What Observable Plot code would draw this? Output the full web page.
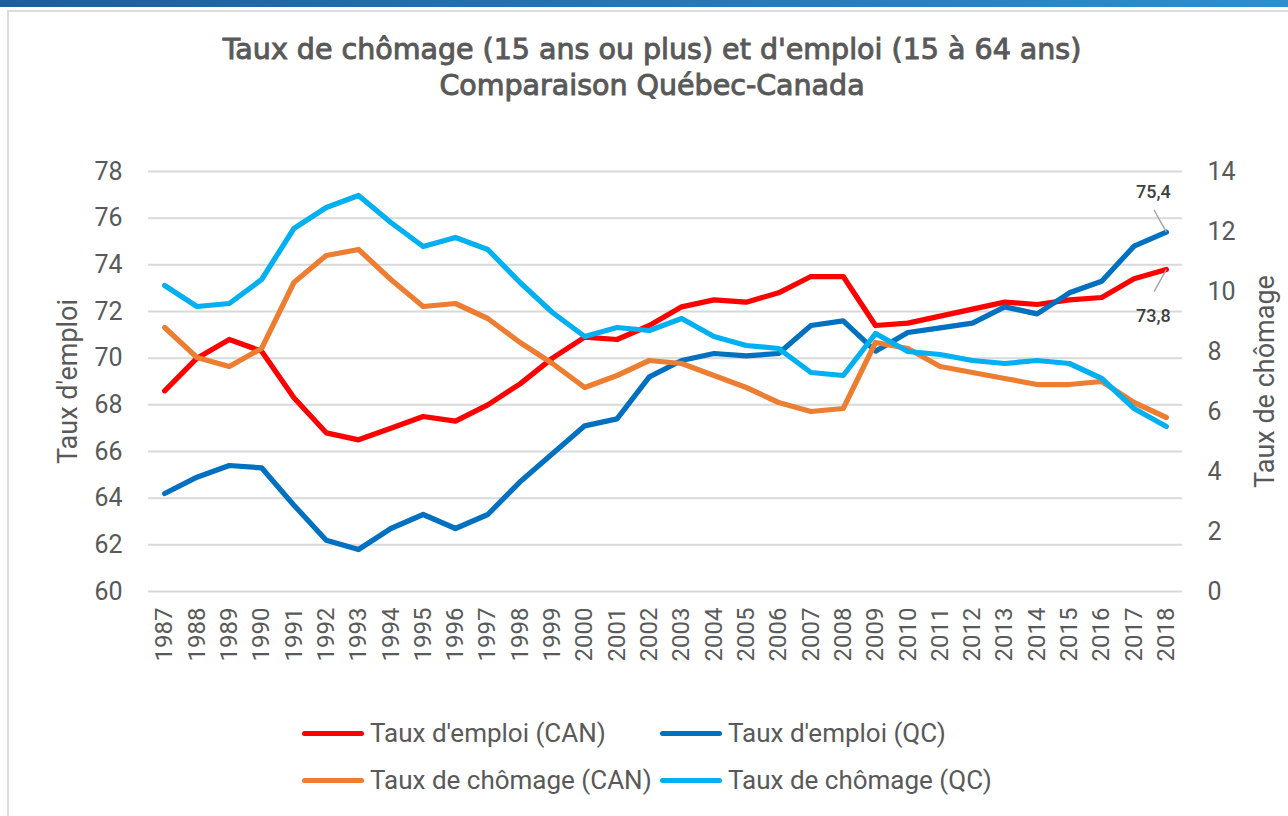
<!DOCTYPE html>
<html>
<head>
<meta charset="utf-8">
<script src="https://cdn.jsdelivr.net/npm/d3@7"></script>
<script src="https://cdn.jsdelivr.net/npm/@observablehq/plot@0.6"></script>
<style>
  html, body { margin: 0; padding: 0; background: #fff; }
  #wrap { position: relative; width: 1288px; height: 816px; overflow: hidden; background: #fff; }
  #topbar { position: absolute; left: 0; top: 0; width: 1288px; height: 7px;
            background: linear-gradient(to right, #1b5e9e, #2b8fd3); }
  #frame { position: absolute; left: 7px; top: 10px; width: 1400px; height: 900px;
           border-left: 2px solid #dcdcdc; border-top: 2px solid #dcdcdc; }
  .title { position: absolute; left: 0; width: 1304px; text-align: center;
           font-family: "DejaVu Sans", sans-serif; font-weight: normal; color: #595959;
           -webkit-text-stroke: 1px #595959;
           font-size: 28.5px; line-height: 34px; }
  #chart { position: absolute; left: 0; top: 0; }
  .leg { position: absolute; display: flex; align-items: center; font-family: Roboto, sans-serif;
         font-size: 26px; color: #595959; white-space: nowrap; }
  .sw { width: 62px; height: 5px; border-radius: 3px; margin-right: 6px; }
</style>
</head>
<body>
<div id="wrap">
  <div id="topbar"></div>
  <div id="frame"></div>
  <div class="title" id="t1" style="top:33px"></div>
  <div class="title" id="t2" style="top:69px"></div>
  <div id="chart"></div>
</div>
<script>
// ---- Data ----
const titleLine1 = "Taux de chômage (15 ans ou plus) et d'emploi (15 à 64 ans)";
const titleLine2 = "Comparaison Québec-Canada";
const years = [1987,1988,1989,1990,1991,1992,1993,1994,1995,1996,1997,1998,1999,2000,2001,2002,
               2003,2004,2005,2006,2007,2008,2009,2010,2011,2012,2013,2014,2015,2016,2017,2018];
const empCAN = [68.6,70.0,70.8,70.3,68.3,66.8,66.5,67.0,67.5,67.3,68.0,68.9,70.0,70.9,70.8,71.4,
                72.2,72.5,72.4,72.8,73.5,73.5,71.4,71.5,71.8,72.1,72.4,72.3,72.5,72.6,73.4,73.8];
const empQC = [64.2,64.9,65.4,65.3,63.7,62.2,61.8,62.7,63.3,62.7,63.3,64.7,65.9,67.1,67.4,69.2,
               69.9,70.2,70.1,70.2,71.4,71.6,70.3,71.1,71.3,71.5,72.2,71.9,72.8,73.3,74.8,75.4];
const unempCAN = [8.8,7.8,7.5,8.1,10.3,11.2,11.4,10.4,9.5,9.6,9.1,8.3,7.6,6.8,7.2,7.7,
                  7.6,7.2,6.8,6.3,6.0,6.1,8.3,8.1,7.5,7.3,7.1,6.9,6.9,7.0,6.3,5.8];
const unempQC = [10.2,9.5,9.6,10.4,12.1,12.8,13.2,12.3,11.5,11.8,11.4,10.3,9.3,8.5,8.8,8.7,
                 9.1,8.5,8.2,8.1,7.3,7.2,8.6,8.0,7.9,7.7,7.6,7.7,7.6,7.1,6.1,5.5];
const leftTicks = [60,62,64,66,68,70,72,74,76,78];
const rightTicks = [0,2,4,6,8,10,12,14];
const seriesNames = ["Taux d'emploi (CAN)","Taux d'emploi (QC)","Taux de chômage (CAN)","Taux de chômage (QC)"];
const seriesColors = ["#FF0000","#0070C0","#ED7D31","#00B0F0"];
const leftLabel = "Taux d'emploi";
const rightLabel = "Taux de chômage";
const annotations = [{year:2018, value:75.4, dir:1}, {year:2018, value:73.8, dir:-1}];

// ---- Scales mapping (right axis 0–14 onto left axis 60–78) ----
const L0 = 60, L1 = 78, R0 = 0, R1 = 14;
const toLeft = v => L0 + (v - R0) * (L1 - L0) / (R1 - R0);
const toRight = v => R0 + (v - L0) * (R1 - R0) / (L1 - L0);

const series = [
  {name: seriesNames[0], color: seriesColors[0], values: empCAN, right: false},
  {name: seriesNames[1], color: seriesColors[1], values: empQC, right: false},
  {name: seriesNames[2], color: seriesColors[2], values: unempCAN, right: true},
  {name: seriesNames[3], color: seriesColors[3], values: unempQC, right: true}
];
const table = series.map(s => years.map((yr, i) => ({year: yr, v: s.right ? toLeft(s.values[i]) : s.values[i]})));

document.getElementById("t1").textContent = titleLine1;
document.getElementById("t2").textContent = titleLine2;

const fmt = v => String(v).replace(".", ",");

const chart = Plot.plot({
  width: 1288, height: 816,
  marginLeft: 148, marginRight: 106, marginTop: 171, marginBottom: 225,
  x: {domain: [years[0] - 0.5, years[years.length - 1] + 0.5]},
  y: {domain: [L0, L1]},
  style: {background: "transparent", fontFamily: "Roboto, sans-serif", color: "#595959"},
  marks: [
    Plot.gridY(leftTicks, {stroke: "#d9d9d9", strokeOpacity: 1, strokeWidth: 2}),
    Plot.axisY(leftTicks, {anchor: "left", tickSize: 0, tickPadding: 26, fontSize: 25, label: null}),
    Plot.axisY(rightTicks.map(toLeft), {anchor: "right", tickSize: 0, tickPadding: 25, fontSize: 25, label: null,
      tickFormat: d => String(Math.round(toRight(d)))}),
    Plot.axisX(years, {anchor: "bottom", tickSize: 0, tickPadding: 16, tickRotate: -90, fontSize: 24,
      label: null, tickFormat: d => String(d)}),
    Plot.text([leftLabel], {frameAnchor: "left", dx: -80, rotate: -90, textAnchor: "middle",
      fontSize: 27, fill: "#595959"}),
    Plot.text([rightLabel], {frameAnchor: "right", dx: 83, rotate: -90, textAnchor: "middle",
      fontSize: 27, fill: "#595959"}),
    ...table.map((d, i) => Plot.line(d, {x: "year", y: "v", stroke: series[i].color, strokeWidth: 5.25,
      strokeLinejoin: "round", strokeLinecap: "round"})),
    Plot.link(annotations, {x1: "year", y1: "value", x2: d => d.year - 0.38, y2: d => d.value + d.dir * 0.95,
      stroke: "#a6a6a6", strokeWidth: 1.5}),
    Plot.text(annotations.filter(d => d.dir > 0), {x: "year", y: "value", text: d => fmt(d.value), dx: -13, dy: -40,
      fontSize: 18, fill: "#404040", fontWeight: 500}),
    Plot.text(annotations.filter(d => d.dir < 0), {x: "year", y: "value", text: d => fmt(d.value), dx: -13, dy: 47,
      fontSize: 18, fill: "#404040", fontWeight: 500})
  ]
});
document.getElementById("chart").appendChild(chart);

// Legend
const legPos = [[302, 733], [660, 733], [302, 780], [660, 780]];
series.forEach((s, i) => {
  const el = document.createElement("div");
  el.className = "leg";
  el.style.left = legPos[i][0] + "px";
  el.style.top = (legPos[i][1] - 16) + "px";
  el.style.height = "32px";
  const sw = document.createElement("div");
  sw.className = "sw"; sw.style.background = s.color;
  const tx = document.createElement("span");
  tx.textContent = s.name;
  el.appendChild(sw); el.appendChild(tx);
  document.getElementById("wrap").appendChild(el);
});
</script>
</body>
</html>
